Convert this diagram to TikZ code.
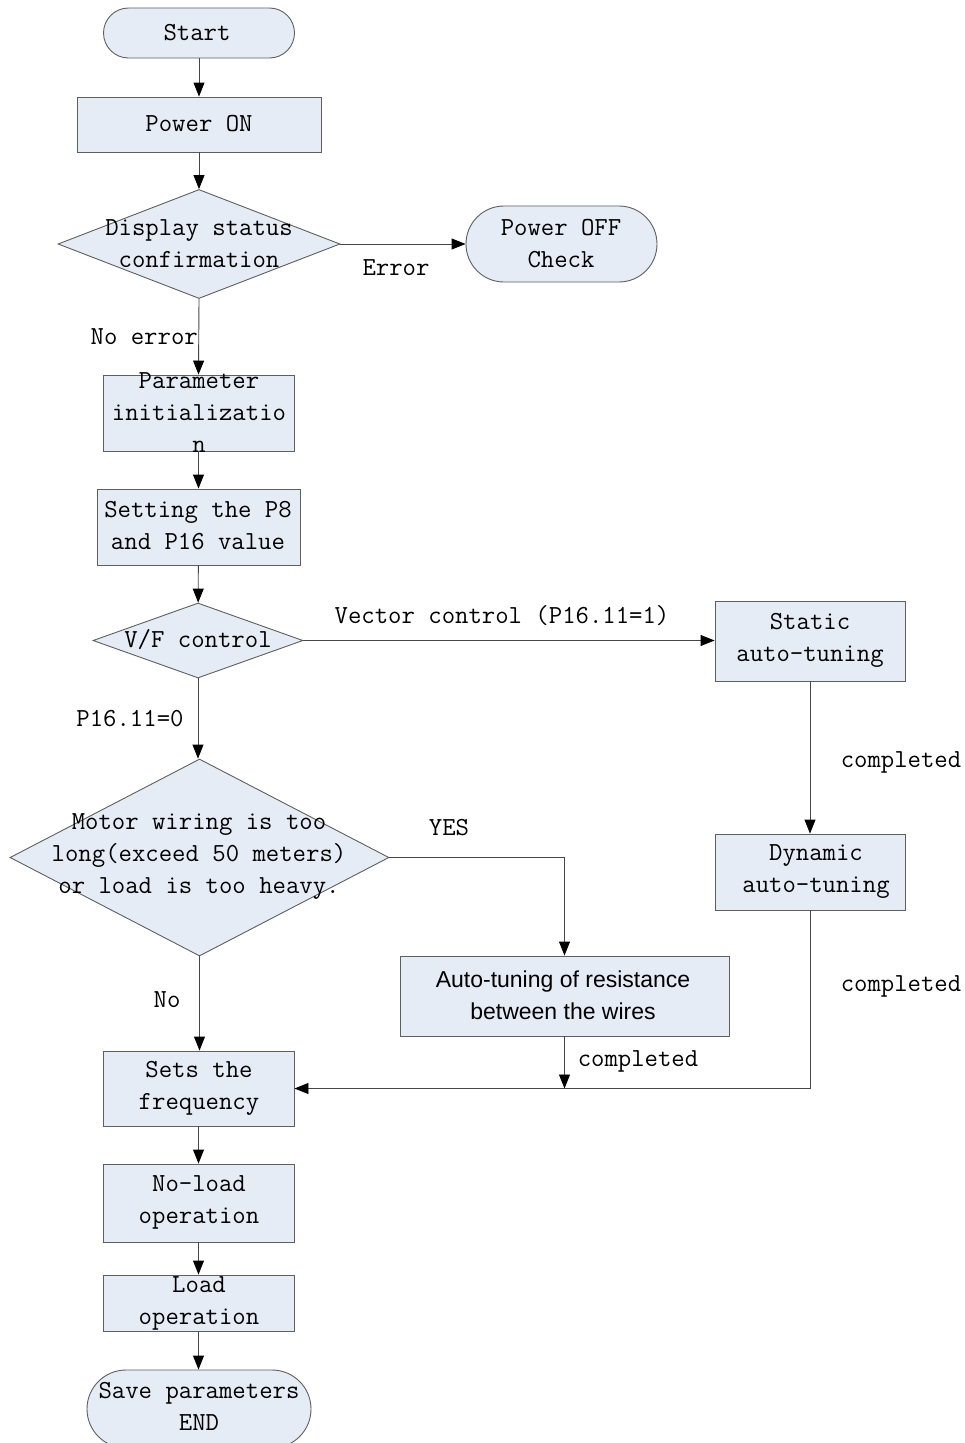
\documentclass[tikz,border=0pt]{standalone}
\usepackage{fontspec}
\newfontfamily\sansf{Liberation Sans}
\usetikzlibrary{shapes.geometric,shapes.misc,arrows.meta}
\definecolor{boxfill}{RGB}{230,236,246}
\definecolor{edgec}{RGB}{95,95,95}
\definecolor{linec}{RGB}{70,70,70}
\begin{document}
\begin{tikzpicture}[x=1pt,y=-1pt,
  base/.style={draw=edgec,fill=boxfill,line width=0.9pt,inner sep=0pt},
  boxn/.style={base,rectangle},
  termn/.style={base,rounded rectangle},
  decn/.style={base,diamond},
  txt/.style={font=\ttfamily\fontsize{26}{32}\selectfont,align=center,inner sep=0pt,text=black},
  lbl/.style={font=\ttfamily\fontsize{26}{32}\selectfont,inner sep=0pt,text=black},
  arr/.style={draw=linec,line width=0.9pt,-{Triangle[length=14pt,width=11pt,color=black]}},
  ln/.style={draw=linec,line width=0.9pt}]
\clip (0,0) rectangle (965,1443);
\fill[white] (0,0) rectangle (965,1443);

% nodes
\node[termn,minimum width=191,minimum height=50] (start) at (199,33) {};
\node[txt] (startT) at (197,33) {Start};

\node[boxn,minimum width=244,minimum height=55] (pon) at (199,124.5) {};
\node[txt] (ponT) at (199,124) {Power ON};

\node[decn,minimum width=282,minimum height=109] (d1) at (199,244) {};
\node[txt] (d1T) at (199,244) {Display status\\confirmation};

\node[termn,minimum width=191,minimum height=76] (poff) at (561.5,244) {};
\node[txt] (poffT) at (561,244) {Power OFF\\Check};

\node[boxn,minimum width=191,minimum height=76] (pinit) at (198.5,413) {};
\node[txt] (pinitT) at (199,413) {Parameter\\initializatio\\n};

\node[boxn,minimum width=203,minimum height=76] (pset) at (198.5,527) {};
\node[txt] (psetT) at (198,526) {Setting the P8\\and P16 value};

\node[decn,minimum width=210,minimum height=75] (vf) at (198,640.5) {};
\node[txt] (vfT) at (198,640) {V/F control};

\node[boxn,minimum width=190,minimum height=80] (stat) at (810,641) {};
\node[txt] (statT) at (810,640) {Static\\auto-tuning};

\node[boxn,minimum width=190,minimum height=76] (dyn) at (810,872) {};
\node[txt] (dynT) at (816,872) {Dynamic\\auto-tuning};

\node[decn,minimum width=379,minimum height=197] (d2) at (199.5,857.5) {};
\node[txt] (d2T) at (199,857) {Motor wiring is too\\long(exceed 50 meters)\\or load is too heavy.};

\node[boxn,minimum width=329,minimum height=80] (auto) at (564.5,996) {};
\node[txt,font=\sansf\fontsize{23}{32}\selectfont] (autoT) at (563,995) {Auto-tuning of resistance\\between the wires};

\node[boxn,minimum width=191,minimum height=75] (sets) at (198.5,1088.5) {};
\node[txt] (setsT) at (199,1088) {Sets the\\frequency};

\node[boxn,minimum width=191,minimum height=78] (nol) at (198.5,1203) {};
\node[txt] (nolT) at (199,1202) {No-load\\operation};

\node[boxn,minimum width=191,minimum height=56] (lop) at (198.5,1303) {};
\node[txt] (lopT) at (199,1303) {Load\\operation};

\node[termn,minimum width=224,minimum height=78] (save) at (199,1409) {};
\node[txt] (saveT) at (199,1406) {Save parameters\\END};

% connectors
\draw[arr] (start.south -| pon.north) -- (pon.north);
\draw[arr] (pon) -- (d1);
\draw[arr] (d1.east) -- (poff.west);
\draw[arr] (d1.south) -- (pinit.north);
\draw[arr] (pinit) -- (pset);
\draw[arr] (pset) -- (vf);
\draw[arr] (vf.east) -- (vf.east -| stat.west);
\draw[arr] (stat) -- (dyn);
\draw[arr] (vf.south) -- (vf.south |- d2.north);
\draw[arr] (d2.east) -| (auto.north);
\draw[arr] (d2.south) -- (d2.south |- sets.north);
\coordinate (join) at (auto.south |- sets.east);
\draw[arr] (auto.south) -- (join);
\draw[arr] (dyn.south) |- (sets.east);
\draw[arr] (sets) -- (nol);
\draw[arr] (nol) -- (lop);
\draw[arr] (lop.south) -- (lop.south |- save.north);

% labels
\node[lbl] (lErr) at (396,268) {Error};
\node[lbl,anchor=east] (lNoErr) at (198,337) {No error};
\node[lbl] (lVec) at (502,616) {Vector control (P16.11=1)};
\node[lbl] (lP0) at (130,719) {P16.11=0};
\node[lbl] (lC1) at (901,762) {completed};
\node[lbl] (lYes) at (449,828) {YES};
\node[lbl] (lC2) at (901,986) {completed};
\node[lbl] (lNo) at (167,1000) {No};
\node[lbl] (lC3) at (638,1061) {completed};
\end{tikzpicture}
\end{document}
